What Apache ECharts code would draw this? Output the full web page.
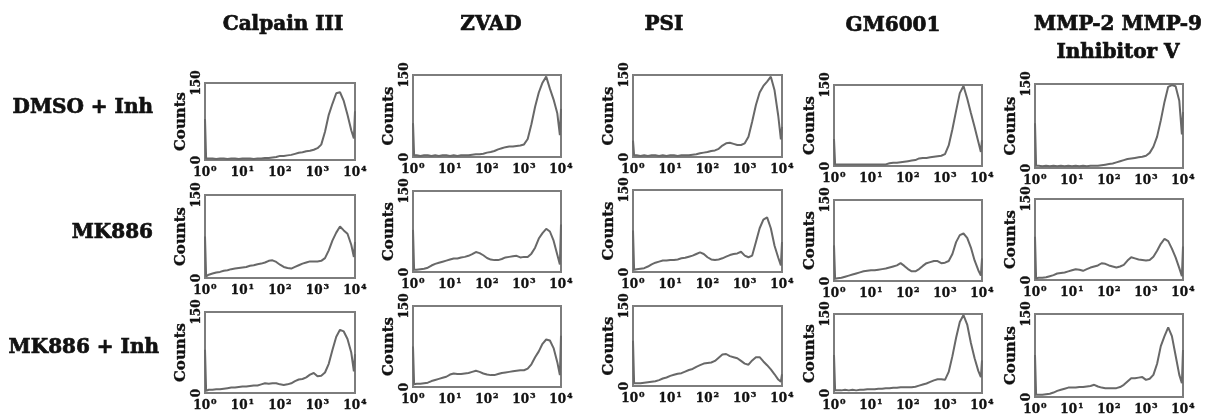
<!DOCTYPE html>
<html>
<head>
<meta charset="utf-8">
<script src="https://cdn.jsdelivr.net/npm/echarts@6/dist/echarts.min.js"></script>
<style>
  html, body { margin: 0; padding: 0; background: #ffffff; }
  #chart { width: 1208px; height: 420px; }
</style>
</head>
<body>
<div id="chart"></div>
<script>
// Fluorescence channels, expressed in decades (10^0 .. 10^4)
const DECADES = [0, 0.03,
  0.1, 0.2, 0.3, 0.4, 0.5, 0.6, 0.7, 0.8, 0.9, 1.0,
  1.1, 1.2, 1.3, 1.4, 1.5, 1.6, 1.7, 1.8, 1.9, 2.0,
  2.1, 2.2, 2.3, 2.4, 2.5, 2.6, 2.7, 2.8, 2.9, 3.0,
  3.1, 3.2, 3.3, 3.4, 3.5, 3.6, 3.7, 3.8, 3.9,
  3.97, 4.0];

const COLUMN_TITLES = ['Calpain III', 'ZVAD', 'PSI', 'GM6001', 'MMP-2 MMP-9\nInhibitor V'];
const ROW_LABELS = ['DMSO + Inh', 'MK886', 'MK886 + Inh'];
const X_TICK_EXPONENTS = [0, 1, 2, 3, 4];
const Y_TICKS = [0, 150];
const Y_NAME = 'Counts';

// Event counts per channel
const calpainDmso   = [80, 3, 3, 3, 2, 3, 3, 2, 3, 3, 2, 3, 3, 3, 2, 3, 3, 4, 4, 5, 6, 8, 8, 9, 10, 12, 14, 15, 17, 18, 20, 23, 30, 55, 88, 110, 130, 132, 115, 88, 58, 42, 95];
const calpainMk     = [75, 3, 6, 8, 10, 11, 13, 14, 16, 17, 18, 19, 20, 22, 23, 25, 26, 28, 31, 32, 29, 24, 20, 18, 17, 20, 23, 26, 28, 30, 30, 30, 31, 36, 50, 68, 82, 93, 86, 80, 60, 38, 65];
const calpainMkInh  = [80, 4, 6, 6, 7, 7, 8, 9, 10, 10, 11, 12, 12, 13, 14, 14, 16, 18, 17, 18, 18, 16, 15, 16, 18, 22, 25, 26, 29, 34, 37, 31, 32, 38, 54, 80, 104, 117, 114, 100, 75, 40, 72];

const zvadDmso      = [62, 3, 3, 2, 3, 3, 2, 3, 2, 3, 3, 2, 3, 2, 3, 3, 3, 4, 5, 5, 6, 8, 9, 11, 14, 16, 18, 19, 19, 20, 21, 23, 33, 60, 92, 118, 136, 147, 125, 105, 80, 40, 88];
const zvadMk        = [78, 4, 4, 5, 6, 8, 12, 15, 17, 19, 21, 23, 25, 25, 27, 28, 30, 33, 37, 35, 31, 26, 23, 22, 22, 24, 27, 28, 29, 30, 27, 28, 28, 34, 45, 62, 72, 80, 75, 58, 32, 14, 88];
const zvadMkInh     = [75, 5, 6, 6, 7, 8, 11, 13, 15, 17, 19, 23, 25, 24, 24, 25, 26, 28, 30, 28, 25, 23, 22, 22, 24, 26, 27, 28, 29, 30, 31, 31, 34, 42, 55, 66, 80, 88, 86, 72, 46, 22, 95];

const psiDmso       = [30, 3, 3, 2, 3, 2, 3, 3, 2, 3, 2, 3, 3, 2, 3, 3, 3, 4, 5, 7, 8, 9, 11, 12, 15, 21, 25, 26, 24, 22, 22, 25, 37, 65, 95, 118, 130, 138, 147, 122, 75, 32, 55];
const psiMk         = [76, 4, 5, 6, 7, 10, 14, 17, 19, 21, 21, 22, 22, 23, 25, 26, 28, 30, 33, 36, 33, 27, 23, 22, 23, 25, 28, 31, 33, 34, 37, 30, 27, 30, 55, 80, 96, 100, 80, 48, 26, 12, 55];
const psiMkInh      = [85, 5, 5, 5, 6, 7, 8, 9, 11, 14, 16, 19, 21, 23, 24, 27, 30, 32, 36, 39, 42, 43, 44, 47, 53, 59, 60, 56, 54, 52, 47, 42, 40, 48, 54, 54, 46, 39, 31, 22, 12, 8, 22];

const gmDmso        = [50, 3, 3, 3, 3, 3, 3, 3, 3, 3, 3, 3, 3, 3, 3, 3, 5, 6, 6, 7, 8, 9, 10, 11, 14, 15, 15, 16, 17, 18, 19, 22, 38, 68, 102, 135, 148, 125, 98, 72, 45, 26, 48];
const gmMk          = [66, 4, 5, 6, 8, 10, 12, 14, 16, 18, 19, 20, 20, 21, 22, 23, 25, 27, 29, 33, 28, 22, 18, 18, 22, 28, 33, 35, 37, 37, 33, 34, 37, 50, 72, 85, 88, 80, 62, 38, 20, 10, 42];
const gmMkInh       = [72, 5, 5, 5, 6, 5, 6, 5, 6, 6, 7, 7, 7, 8, 8, 9, 9, 10, 10, 11, 11, 11, 11, 12, 14, 16, 18, 21, 24, 26, 26, 25, 40, 70, 105, 135, 148, 130, 95, 66, 42, 30, 62];

const mmpDmso       = [80, 4, 4, 3, 4, 3, 4, 3, 4, 3, 4, 3, 4, 3, 4, 3, 4, 4, 4, 5, 6, 7, 8, 10, 12, 14, 16, 17, 18, 19, 20, 22, 27, 38, 56, 85, 118, 145, 148, 146, 120, 60, 100];
const mmpMk         = [80, 3, 4, 4, 5, 7, 9, 12, 13, 14, 16, 18, 20, 19, 17, 20, 23, 25, 27, 31, 30, 27, 25, 23, 25, 28, 36, 42, 40, 38, 37, 36, 37, 43, 54, 67, 76, 72, 58, 42, 22, 7, 62];
const mmpMkInh      = [76, 4, 4, 4, 5, 6, 8, 11, 13, 15, 17, 17, 17, 18, 18, 19, 20, 22, 19, 17, 16, 16, 16, 16, 18, 22, 28, 34, 34, 35, 36, 31, 33, 40, 60, 92, 110, 126, 110, 75, 40, 25, 85];

// columns x rows of histograms
const PANELS = [
  [calpainDmso, calpainMk, calpainMkInh],
  [zvadDmso, zvadMk, zvadMkInh],
  [psiDmso, psiMk, psiMkInh],
  [gmDmso, gmMk, gmMkInh],
  [mmpDmso, mmpMk, mmpMkInh]
];

// ---- layout (pixels) ----
const SERIF = '"DejaVu Serif", "Liberation Serif", serif';
const INK = '#111111';
const COL_LEFT  = [205, 413, 633, 834, 1035];
const COL_WIDTH = [150, 148, 149, 148, 148];
const CELL_TOP = [
  [83, 195, 312],
  [75, 191, 306],
  [75, 190, 306],
  [85, 200, 314],
  [84, 199, 314]
];
const CELL_HEIGHT = [
  [77, 83, 81],
  [82, 81, 81],
  [82, 82, 80],
  [81, 81, 79],
  [84, 81, 83]
];
const TITLE_X = [283, 491, 664, 893, 1118];
const TITLE_Y = [25, 25, 25, 26, 39];
const ROW_RIGHT = [153, 153, 159];
const ROW_Y = [108, 233, 348];

// heavy serif text: bold face plus a thin outline in the same ink
const heavy = (size, extra) => Object.assign({
  fontFamily: SERIF, fontWeight: 'bold', fontSize: size, color: INK,
  textBorderColor: INK, textBorderWidth: size >= 18 ? 0.7 : 0.35
}, extra || {});

const grids = [], xAxes = [], yAxes = [], series = [];
PANELS.forEach((column, c) => {
  column.forEach((counts, r) => {
    const idx = grids.length;
    grids.push({
      left: COL_LEFT[c], top: CELL_TOP[c][r],
      width: COL_WIDTH[c], height: CELL_HEIGHT[c][r],
      show: true, borderColor: '#7d7d7d', borderWidth: 2,
      backgroundColor: 'transparent'
    });
    xAxes.push({
      type: 'value', gridIndex: idx,
      min: X_TICK_EXPONENTS[0], max: X_TICK_EXPONENTS[X_TICK_EXPONENTS.length - 1], interval: 1,
      axisLine: { show: false }, axisTick: { show: false }, splitLine: { show: false },
      axisLabel: {
        margin: 5,
        formatter: v => '{b|10}{s|' + v + '}',
        rich: {
          b: heavy(12, { lineHeight: 15 }),
          s: heavy(8, { lineHeight: 9, verticalAlign: 'top', padding: [0, 0, 0, 1] })
        }
      }
    });
    yAxes.push({
      type: 'value', gridIndex: idx,
      min: Y_TICKS[0], max: Y_TICKS[1], interval: Y_TICKS[1] - Y_TICKS[0],
      axisLine: { show: false }, axisTick: { show: false }, splitLine: { show: false },
      axisLabel: Object.assign({ rotate: 90, margin: 2 }, heavy(12)),
      name: Y_NAME, nameLocation: 'middle', nameRotate: 90, nameGap: 16,
      nameTextStyle: heavy(15)
    });
    series.push({
      type: 'line', xAxisIndex: idx, yAxisIndex: idx,
      data: DECADES.map((d, k) => [d, counts[k]]),
      showSymbol: false, silent: true, animation: false,
      lineStyle: { color: '#686868', width: 2 }
    });
  });
});

const titles = [];
COLUMN_TITLES.forEach((t, i) => titles.push({
  text: t, left: TITLE_X[i], top: TITLE_Y[i], padding: 0,
  textAlign: 'center', textVerticalAlign: 'middle',
  textStyle: heavy(20, { lineHeight: 28 })
}));
ROW_LABELS.forEach((t, i) => titles.push({
  text: t, left: ROW_RIGHT[i], top: ROW_Y[i], padding: 0,
  textAlign: 'right', textVerticalAlign: 'middle',
  textStyle: heavy(20)
}));

const chart = echarts.init(document.getElementById('chart'), null, { renderer: 'canvas' });
chart.setOption({
  backgroundColor: '#ffffff',
  animation: false,
  title: titles,
  grid: grids,
  xAxis: xAxes,
  yAxis: yAxes,
  series: series
});
</script>
</body>
</html>
